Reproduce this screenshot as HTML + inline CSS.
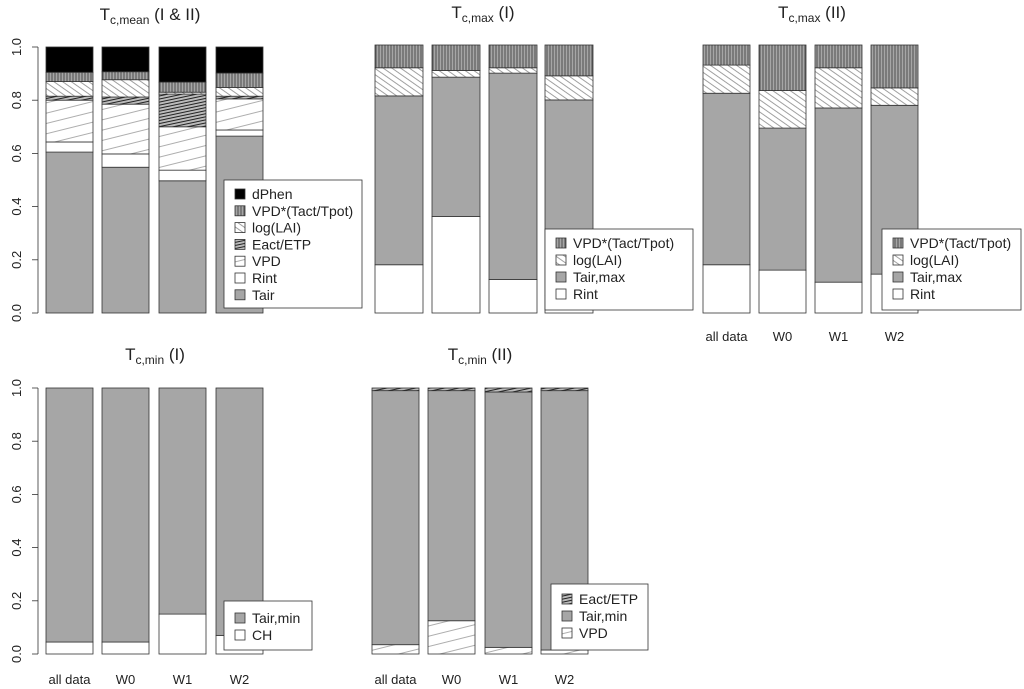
<!DOCTYPE html>
<html><head><meta charset="utf-8"><style>
html,body{margin:0;padding:0;background:#fff}
svg{display:block;font-family:"Liberation Sans",Arial,sans-serif}
</style></head><body>
<svg id="c" width="1024" height="689" viewBox="0 0 1024 689">
<defs>
<pattern id="p-vpdstar" width="3" height="6" patternUnits="userSpaceOnUse"><rect width="3" height="6" fill="#a6a6a6"/><line x1="1" y1="0" x2="1" y2="6" stroke="#444" stroke-width="0.9"/></pattern>
<pattern id="p-lai" width="5" height="5" patternUnits="userSpaceOnUse" patternTransform="rotate(35)"><rect width="5" height="5" fill="#fff"/><line x1="0" y1="1" x2="5" y2="1" stroke="#888" stroke-width="0.8"/></pattern>
<pattern id="p-eact" width="4" height="3" patternUnits="userSpaceOnUse" patternTransform="rotate(-12)"><rect width="4" height="3" fill="#bbb"/><line x1="0" y1="1" x2="4" y2="1" stroke="#222" stroke-width="1"/></pattern>
<pattern id="p-vpd" width="10" height="10" patternUnits="userSpaceOnUse" patternTransform="rotate(-14)"><rect width="10" height="10" fill="#fff"/><line x1="0" y1="1" x2="10" y2="1" stroke="#999" stroke-width="0.8"/></pattern>
</defs>
</svg>
<script>
// ---- data ----
const groups = ["all data","W0","W1","W2"];
const tickLabels = ["0.0","0.2","0.4","0.6","0.8","1.0"];
const tickValues = [0,0.2,0.4,0.6,0.8,1.0];
// panel 1: Tc,mean (I & II) — component shares, bottom to top
const p1Series = ["Tair","Rint","VPD","Eact/ETP","log(LAI)","VPD*(Tact/Tpot)","dPhen"];
const p1Tair   = [0.605,0.548,0.497,0.665];
const p1Rint   = [0.038,0.050,0.040,0.023];
const p1VPD    = [0.157,0.187,0.163,0.117];
const p1Eact   = [0.015,0.027,0.123,0.010];
const p1LAI    = [0.055,0.065,0.007,0.033];
const p1VPDs   = [0.035,0.030,0.038,0.054];
const p1dPhen  = [0.095,0.093,0.132,0.098];
// panel 2: Tc,max (I)
const p2Rint = [0.18,0.36,0.125,0.065];
const p2Tair = [0.63,0.52,0.77,0.73];
const p2LAI  = [0.105,0.025,0.02,0.09];
const p2VPDs = [0.085,0.095,0.085,0.115];
// panel 3: Tc,max (II)
const p3Rint = [0.18,0.16,0.115,0.145];
const p3Tair = [0.64,0.53,0.65,0.63];
const p3LAI  = [0.105,0.14,0.15,0.065];
const p3VPDs = [0.075,0.17,0.085,0.16];
// panel 4: Tc,min (I)
const p4CH   = [0.045,0.045,0.15,0.07];
const p4Tair = [0.955,0.955,0.85,0.93];
// panel 5: Tc,min (II)
const p5VPD  = [0.035,0.125,0.025,0.015];
const p5Tair = [0.955,0.865,0.96,0.975];
const p5Eact = [0.01,0.01,0.015,0.01];

const fills = {"Tair":"#a6a6a6","Tair,max":"#a6a6a6","Tair,min":"#a6a6a6","Rint":"#fff","CH":"#fff",
 "VPD":"url(#p-vpd)","Eact/ETP":"url(#p-eact)","log(LAI)":"url(#p-lai)","VPD*(Tact/Tpot)":"url(#p-vpdstar)","dPhen":"#000"};
const NS="http://www.w3.org/2000/svg";
const svg=document.getElementById('c');
function mk(tag,attrs,parent){const e=document.createElementNS(NS,tag);for(const k in attrs)e.setAttribute(k,attrs[k]);(parent||svg).appendChild(e);return e;}

function panel(o){
  const g=mk('g',{});
  
  
  const y=v=>o.y0+(o.y1-o.y0)*v;
  const xs=o.xs;
  const t=mk('text',{x:o.tx,y:o.ty,'font-size':17,'text-anchor':'middle',fill:'#222'},g);
  
  
  t.innerHTML='T<tspan font-size="12" dy="4">c,'+o.sub+'</tspan><tspan dy="-4"> '+o.paren+'</tspan>';
  for(let i=0;i<groups.length;i++){
    let acc=0;
    o.series.forEach((s,k)=>{
      const v=o.data[k][i];
      const r=mk('rect',{x:xs[i],y:y(acc+v),width:o.bw,height:Math.max(0,y(acc)-y(acc+v)),fill:fills[s],stroke:'#333','stroke-width':0.8},g);
      
      
      acc+=v;
    });
    if(o.xl){const l=mk('text',{x:xs[i]+o.bw/2,y:o.xl,'font-size':13,'text-anchor':'middle',fill:'#222'},g);l.textContent=groups[i];
      
      }
  }
  if(o.axis){
    const ax=mk('g',{},g);
    
    
    mk('line',{x1:38,x2:38,y1:y(0),y2:y(1),stroke:'#333','stroke-width':0.8},ax);
    tickValues.forEach((v,j)=>{
      mk('line',{x1:32,x2:38,y1:y(v),y2:y(v),stroke:'#333','stroke-width':0.8},ax);
      const tl=mk('text',{x:0,y:0,'font-size':13,'text-anchor':'middle',fill:'#222',transform:`translate(21,${y(v)}) rotate(-90)`},ax);
      tl.textContent=tickLabels[j];
      
      
    });
  }
  const L=o.leg;
  const lg=mk('g',{},g);
  
  
  mk('rect',{x:L.x,y:L.y,width:L.w,height:L.h,fill:'#fff',stroke:'#333','stroke-width':0.8},lg);
  const items=o.series.slice().reverse();
  items.forEach((s,k)=>{
    const cy=L.y+L.pad+k*L.step;
    mk('rect',{x:L.x+11,y:cy-5,width:10,height:10,fill:fills[s],stroke:'#333','stroke-width':0.8},lg);
    const tx=mk('text',{x:L.x+28,y:cy+5,'font-size':14,fill:'#222'},lg);
    tx.textContent=s;
    
    
  });
}

panel({name:'panel-tc-mean',sub:'mean',paren:'(I & II)',tx:150,ty:20,y0:313,y1:47,xs:[46,102,159,216],bw:47,axis:true,
  series:p1Series,data:[p1Tair,p1Rint,p1VPD,p1Eact,p1LAI,p1VPDs,p1dPhen],
  leg:{x:224,y:180,w:138,h:128,pad:14,step:16.8}});
panel({name:'panel-tc-max-i',sub:'max',paren:'(I)',tx:483,ty:18,y0:313,y1:45,xs:[375,432,489,545],bw:48,axis:false,
  series:["Rint","Tair,max","log(LAI)","VPD*(Tact/Tpot)"],data:[p2Rint,p2Tair,p2LAI,p2VPDs],
  leg:{x:545,y:229,w:148,h:81,pad:14,step:17}});
panel({name:'panel-tc-max-ii',sub:'max',paren:'(II)',tx:812,ty:18,y0:313,y1:45,xs:[703,759,815,871],bw:47,axis:false,xl:341,
  series:["Rint","Tair,max","log(LAI)","VPD*(Tact/Tpot)"],data:[p3Rint,p3Tair,p3LAI,p3VPDs],
  leg:{x:882,y:229,w:139,h:81,pad:14,step:17}});
panel({name:'panel-tc-min-i',sub:'min',paren:'(I)',tx:155,ty:360,y0:654,y1:388,xs:[46,102,159,216],bw:47,axis:true,xl:684,
  series:["CH","Tair,min"],data:[p4CH,p4Tair],
  leg:{x:224,y:601,w:88,h:49,pad:17,step:17}});
panel({name:'panel-tc-min-ii',sub:'min',paren:'(II)',tx:480,ty:360,y0:654,y1:388,xs:[372,428,485,541],bw:47,axis:false,xl:684,
  series:["VPD","Tair,min","Eact/ETP"],data:[p5VPD,p5Tair,p5Eact],
  leg:{x:551,y:584,w:97,h:66,pad:15,step:17}});
</script>
</body></html>
